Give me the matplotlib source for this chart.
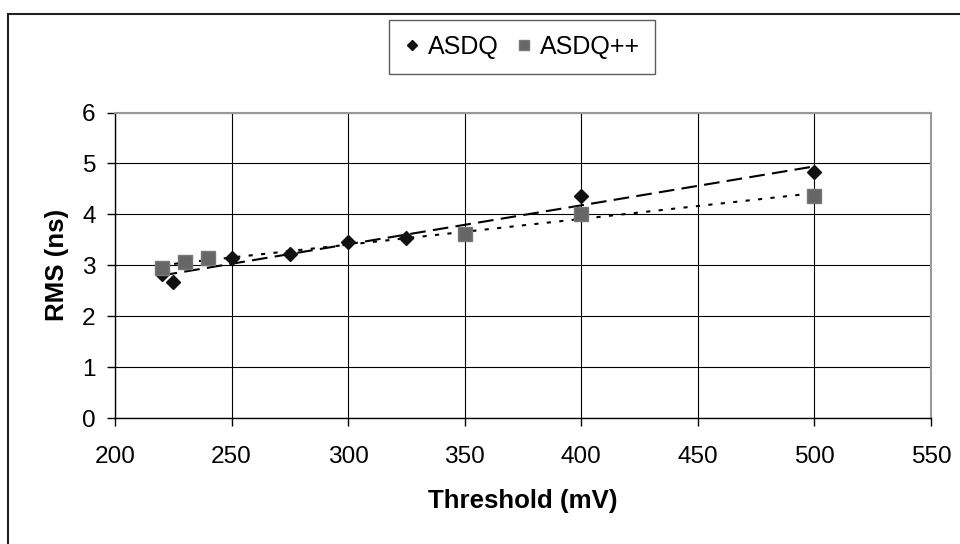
import numpy as np
import matplotlib.pyplot as plt
from matplotlib.patches import Rectangle

plt.rcParams['font.family'] = ['Liberation Sans', 'DejaVu Sans']

# RMS timing resolution vs. discriminator threshold
asdq_mv = [220, 225, 250, 275, 300, 325, 400, 500]
asdq_rms = [2.83, 2.67, 3.14, 3.22, 3.45, 3.53, 4.37, 4.83]

asdqpp_mv = [220, 230, 240, 350, 400, 500]
asdqpp_rms = [2.94, 3.07, 3.14, 3.62, 4.01, 4.37]

x_ticks = [200, 250, 300, 350, 400, 450, 500, 550]
y_ticks = [0, 1, 2, 3, 4, 5, 6]

fig = plt.figure(figsize=(9.6, 5.44), dpi=100)
ax = fig.add_axes([115 / 960, 1 - 418.3 / 544, 816 / 960, 305.8 / 544])

ax.set_xlim(200, 550)
ax.set_ylim(0, 6)
ax.set_xticks(x_ticks)
ax.set_yticks(y_ticks)
ax.grid(True, color='black', linewidth=0.8)
ax.set_axisbelow(True)

# linear trend lines
for xs, ys, dash in [(asdq_mv, asdq_rms, (7.5, 3.5)),
                     (asdqpp_mv, asdqpp_rms, (2, 4))]:
    k, b = np.polyfit(xs, ys, 1)
    xl = np.array([min(xs), max(xs)])
    ax.plot(xl, k * xl + b, color='black', linewidth=1.5, dashes=dash, zorder=3)

ax.plot(asdq_mv, asdq_rms, linestyle='none', marker='D', markersize=7,
        color='#111111', label='ASDQ', zorder=4)
ax.plot(asdqpp_mv, asdqpp_rms, linestyle='none', marker='s', markersize=9.5,
        color='#666666', markeredgecolor='#777777', label='ASDQ++', zorder=4)

for s in ['top', 'right']:
    ax.spines[s].set_color('#999999')
    ax.spines[s].set_linewidth(1.5)
for s in ['left', 'bottom']:
    ax.spines[s].set_color('black')
    ax.spines[s].set_linewidth(1.0)

ax.tick_params(direction='out', length=6, width=1, labelsize=17.6, colors='black')
ax.tick_params(axis='x', pad=14)
ax.tick_params(axis='y', pad=8)

ax.set_xlabel('Threshold (mV)', fontsize=18.6, fontweight='bold', labelpad=15)
ax.set_ylabel('RMS (ns)', fontsize=18.6, fontweight='bold', labelpad=9)

leg = fig.legend(loc='upper center', bbox_to_anchor=(522 / 960, 1 - 20 / 544),
                 ncol=2, fontsize=18, frameon=True, fancybox=False,
                 edgecolor='#333333', handlelength=0.6, handletextpad=0.35,
                 columnspacing=0.7, borderpad=0.6, borderaxespad=0,
                 markerscale=0.8)
leg.get_frame().set_linewidth(1.0)

# outer chart border (only left and top edges fall inside the image)
fig.add_artist(Rectangle((8 / 960, -0.1), 1.2, 1.1 - 14 / 544,
                         transform=fig.transFigure, fill=False,
                         edgecolor='#222222', linewidth=1.5))

fig.savefig('out.png', dpi=100)
